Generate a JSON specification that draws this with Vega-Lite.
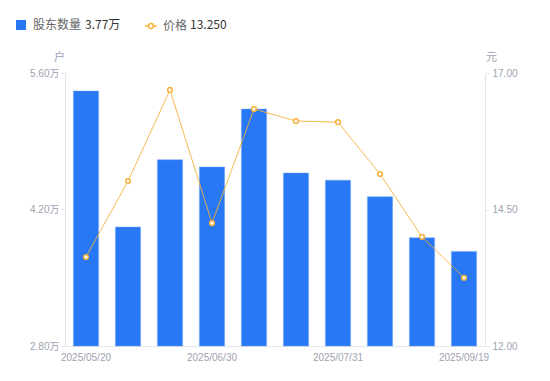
{
  "$schema": "https://vega.github.io/schema/vega-lite/v6.json",
  "width": 420,
  "height": 273,
  "autosize": "none",
  "padding": {"left": 65, "top": 73, "right": 65, "bottom": 35},
  "background": "#ffffff",
  "config": {
    "view": {"stroke": null},
    "font": "Liberation Sans, Noto Sans CJK SC",
    "axis": {"labelFont": "Liberation Sans, Noto Sans CJK SC", "titleFont": "Noto Sans CJK SC"},
    "legend": {"labelFont": "Noto Sans CJK SC", "labelFontSize": 12, "padding": 0}
  },
  "data": {
    "values": [
      {"date": "2025/05/20", "holders": 5.415, "price": 13.63},
      {"date": "2025/05/30", "holders": 4.02, "price": 15.02},
      {"date": "2025/06/10", "holders": 4.71, "price": 16.69},
      {"date": "2025/06/30", "holders": 4.636, "price": 14.25},
      {"date": "2025/07/10", "holders": 5.23, "price": 16.34},
      {"date": "2025/07/20", "holders": 4.574, "price": 16.12},
      {"date": "2025/07/31", "holders": 4.50, "price": 16.10},
      {"date": "2025/08/20", "holders": 4.33, "price": 15.15},
      {"date": "2025/08/31", "holders": 3.91, "price": 14.00},
      {"date": "2025/09/19", "holders": 3.77, "price": 13.25}
    ]
  },
  "encoding": {
    "x": {
      "field": "date",
      "type": "ordinal",
      "sort": null,
      "scale": {"paddingInner": 0.4, "paddingOuter": 0.2},
      "axis": {
        "title": null,
        "values": ["2025/05/20", "2025/06/30", "2025/07/31", "2025/09/19"],
        "labelAngle": 0,
        "ticks": false,
        "labelColor": "#9ea2b0",
        "labelFontSize": 10,
        "labelPadding": 6,
        "domainColor": "#e3e5ea",
        "grid": false
      }
    }
  },
  "layer": [
    {
      "mark": {"type": "bar", "stroke": "#6fa3f8", "strokeWidth": 0.5},
      "encoding": {
        "y": {
          "field": "holders",
          "type": "quantitative",
          "scale": {"domain": [2.8, 5.6], "zero": false, "nice": false},
          "axis": {
            "orient": "left",
            "values": [2.8, 4.2, 5.6],
            "labelExpr": "format(datum.value, '.2f') + '万'",
            "title": "户",
            "titleAngle": 0,
            "titleAlign": "center",
            "titleBaseline": "middle",
            "titleX": -6,
            "titleY": -16,
            "titleColor": "#9ea2b0",
            "titleFontSize": 11,
            "titleFontWeight": "normal",
            "labelColor": "#9ea2b0",
            "labelFontSize": 10,
            "labelPadding": 2,
            "tickSize": 4,
            "tickColor": "#e3e5ea",
            "domainColor": "#e3e5ea",
            "grid": false
          }
        },
        "y2": {"datum": 2.8},
        "fill": {
          "datum": "股东数量",
          "scale": {"domain": ["股东数量"], "range": ["#2878F5"]},
          "legend": {
            "title": null,
            "orient": "none",
            "legendX": -50,
            "legendY": -54,
            "symbolType": "square",
            "symbolSize": 100,
            "symbolStrokeWidth": 0,
            "labelColor": "#666666",
            "labelOffset": 6
          }
        }
      }
    },
    {
      "mark": {"type": "line", "strokeWidth": 1},
      "encoding": {
        "y": {
          "field": "price",
          "type": "quantitative",
          "scale": {"domain": [12, 17], "zero": false, "nice": false},
          "axis": {
            "orient": "right",
            "values": [12, 14.5, 17],
            "format": ".2f",
            "title": "元",
            "titleAngle": 0,
            "titleAlign": "center",
            "titleBaseline": "middle",
            "titleX": 6,
            "titleY": -16,
            "titleColor": "#9ea2b0",
            "titleFontSize": 11,
            "titleFontWeight": "normal",
            "labelColor": "#9ea2b0",
            "labelFontSize": 10,
            "labelPadding": 3,
            "tickSize": 4,
            "tickColor": "#e3e5ea",
            "domainColor": "#e3e5ea",
            "grid": false
          }
        },
        "stroke": {
          "datum": "价格",
          "scale": {"domain": ["价格"], "range": ["#F7B13A"]},
          "legend": {
            "title": null,
            "orient": "none",
            "legendX": 79,
            "legendY": -54,
            "symbolType": "M-1,0H-0.4M0.4,0H1M-0.4,0A0.4,0.4 0 1 1 0.4,0A0.4,0.4 0 1 1 -0.4,0Z",
            "symbolSize": 144,
            "symbolFillColor": "#ffffff",
            "symbolStrokeWidth": 1.5,
            "labelColor": "#666666",
            "labelOffset": 5
          }
        },
        "strokeDash": {
          "datum": "3.77万",
          "scale": {"domain": ["3.77万"], "range": [[1, 0]]},
          "legend": {
            "title": null,
            "orient": "none",
            "legendX": 8,
            "legendY": -54,
            "symbolSize": 0,
            "symbolOpacity": 0,
            "symbolStrokeWidth": 0,
            "labelOffset": 0,
            "labelColor": "#333333"
          }
        }
      }
    },
    {
      "mark": {"type": "point", "filled": true, "fill": "#ffffff", "stroke": "#F7B13A", "strokeWidth": 1.5, "size": 22, "opacity": 1},
      "encoding": {
        "y": {"field": "price", "type": "quantitative", "scale": {"domain": [12, 17], "zero": false, "nice": false}, "axis": null},
        "shape": {
          "datum": "13.250",
          "scale": {"domain": ["13.250"], "range": ["circle"]},
          "legend": {
            "title": null,
            "orient": "none",
            "legendX": 113,
            "legendY": -54,
            "symbolSize": 0,
            "symbolOpacity": 0,
            "labelOffset": 0,
            "labelColor": "#333333"
          }
        }
      }
    }
  ],
  "resolve": {"scale": {"y": "independent"}}
}
